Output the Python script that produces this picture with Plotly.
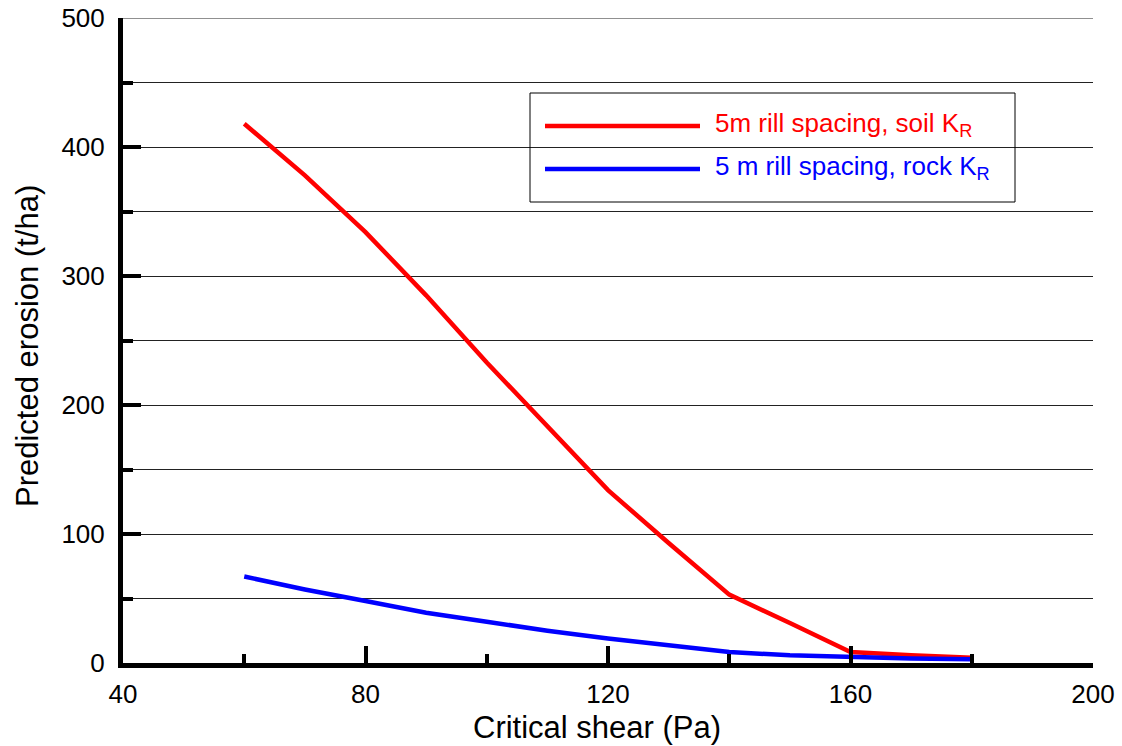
import plotly.graph_objects as go

# Critical shear (Pa) and predicted erosion (t/ha) for the two erodibility cases
shear = [60, 70, 80, 90, 100, 110, 120, 130, 140, 150, 160, 170, 180]
soil_kr = [418, 378, 334, 285, 233, 183, 134, 93, 53, 31, 8.5, 6, 4]
rock_kr = [67, 57, 48, 39, 32, 25, 19, 14, 8.5, 6, 4.5, 3.5, 3]

series_names = ["5m rill spacing, soil K<sub>R</sub>",
                "5 m rill spacing, rock K<sub>R</sub>"]
series_colors = ["#FF0000", "#0000FF"]

x_title = "Critical shear (Pa)"
y_title = "Predicted erosion (t/ha)"

W, H = 1122, 746
L, R, T, B = 123, 29, 18, 83
FONT = "Arial, Liberation Sans, sans-serif"


def px(xp):
    return (xp - L) / (W - L - R)


def py(yp):
    return (H - B - yp) / (H - T - B)


fig = go.Figure()
for ys, name, col in zip([soil_kr, rock_kr], series_names, series_colors):
    fig.add_trace(go.Scatter(x=shear, y=ys, mode="lines", name=name,
                             line=dict(color=col, width=4.5),
                             showlegend=False, cliponaxis=False))

# Legend box, sample lines and labels
shapes = [dict(type="rect", xref="paper", yref="paper",
               x0=px(530), x1=px(1015), y0=py(202), y1=py(93),
               line=dict(color="black", width=1), fillcolor="rgba(0,0,0,0)")]
# top gridline at the end of the value range
shapes.append(dict(type="line", xref="paper", yref="y", x0=0, x1=1, y0=500, y1=500,
                   line=dict(color="#222222", width=1), layer="below"))
annotations = []
for i, (name, col) in enumerate(zip(series_names, series_colors)):
    yy = 126 + 43 * i
    shapes.append(dict(type="line", xref="paper", yref="paper",
                       x0=px(545), x1=px(700), y0=py(yy), y1=py(yy),
                       line=dict(color=col, width=4.5)))
    annotations.append(dict(xref="paper", yref="paper", x=px(713), y=py(yy - 1),
                            xanchor="left", yanchor="middle", showarrow=False,
                            text=name, font=dict(family=FONT, size=26, color=col)))

annotations.append(dict(xref="paper", yref="paper", x=px(597), y=0,
                        yshift=-64, xanchor="center", yanchor="middle",
                        showarrow=False, text=x_title,
                        font=dict(family=FONT, size=31, color="black")))
annotations.append(dict(xref="paper", yref="paper", x=0, y=py(346),
                        xshift=-96, xanchor="center", yanchor="middle",
                        showarrow=False, text=y_title, textangle=-90,
                        font=dict(family=FONT, size=31, color="black")))

fig.update_layout(
    width=W, height=H,
    margin=dict(l=L, r=R, t=T, b=B, pad=0),
    paper_bgcolor="white", plot_bgcolor="white",
    font=dict(family=FONT, size=26, color="black"),
    shapes=shapes, annotations=annotations,
    xaxis=dict(range=[40, 200], tickmode="linear", tick0=40, dtick=40,
               automargin=False, ticklabelstandoff=4,
               ticks="inside", ticklen=17, tickwidth=4, tickcolor="black",
               showline=True, linewidth=5, linecolor="black",
               showgrid=False, zeroline=False,
               minor=dict(dtick=20, ticks="inside", ticklen=9, tickwidth=4,
                          tickcolor="black", showgrid=False)),
    yaxis=dict(range=[0, 500], tickmode="linear", tick0=0, dtick=100,
               automargin=False, ticklabelstandoff=8,
               ticks="inside", ticklen=18, tickwidth=4, tickcolor="black",
               showline=True, linewidth=5, linecolor="black",
               showgrid=True, gridcolor="#222222", gridwidth=1, zeroline=False,
               minor=dict(dtick=50, ticks="inside", ticklen=10, tickwidth=4,
                          tickcolor="black", showgrid=True,
                          gridcolor="#222222", gridwidth=1)),
)

fig.write_html("out.html")
